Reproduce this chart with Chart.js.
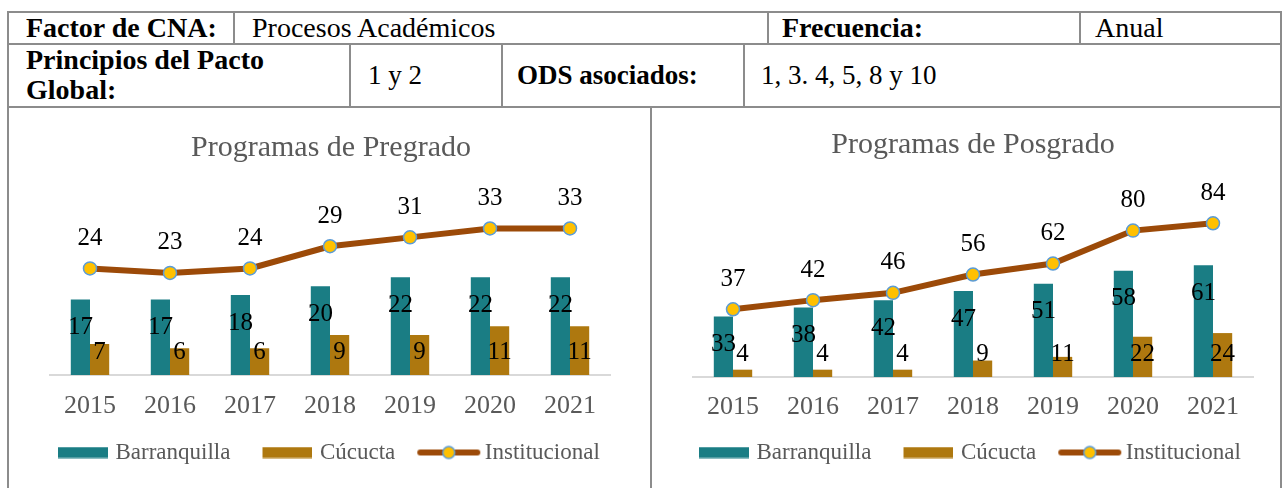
<!DOCTYPE html>
<html>
<head>
<meta charset="utf-8">
<script src="https://cdn.jsdelivr.net/npm/chart.js@4.4.1/dist/chart.umd.min.js"></script>
<style>
  html, body { margin: 0; padding: 0; background: #fff; width: 1284px; height: 488px; overflow: hidden; position: relative; font-family: "Liberation Serif", serif; }
  .ln { position: absolute; background: #8c8c8c; }
  .t { position: absolute; font-size: 27px; color: #000; white-space: nowrap; line-height: 32px; }
  .b { font-weight: bold; }
  .big { font-size: 28px; }
  canvas { position: absolute; top: 107px; }
</style>
</head>
<body>
<!-- table grid -->
<div class="ln" style="left:7px;top:11px;width:1275px;height:2px"></div>
<div class="ln" style="left:7px;top:43px;width:1275px;height:2px"></div>
<div class="ln" style="left:7px;top:106px;width:1275px;height:2px"></div>
<div class="ln" style="left:7px;top:11px;width:2px;height:477px"></div>
<div class="ln" style="left:1280px;top:11px;width:2px;height:477px"></div>
<div class="ln" style="left:233px;top:11px;width:2px;height:33px"></div>
<div class="ln" style="left:767px;top:11px;width:2px;height:33px"></div>
<div class="ln" style="left:1079px;top:11px;width:2px;height:33px"></div>
<div class="ln" style="left:349px;top:43px;width:2px;height:64px"></div>
<div class="ln" style="left:501px;top:43px;width:2px;height:64px"></div>
<div class="ln" style="left:743px;top:43px;width:2px;height:64px"></div>
<div class="ln" style="left:650px;top:106px;width:2px;height:382px"></div>

<div class="t b big" style="left:26px;top:12px">Factor de CNA:</div>
<div class="t big" style="left:252px;top:12px">Procesos Académicos</div>
<div class="t b big" style="left:782px;top:12px">Frecuencia:</div>
<div class="t big" style="left:1095px;top:12px">Anual</div>
<div class="t b big" style="left:26px;top:45px;line-height:30px">Principios del Pacto<br>Global:</div>
<div class="t" style="left:368px;top:59px">1 y 2</div>
<div class="t b" style="left:517px;top:59px">ODS asociados:</div>
<div class="t" style="left:761px;top:59px">1, 3. 4, 5, 8 y 10</div>

<canvas id="pregrado" width="641" height="367" style="left:9px"></canvas>
<canvas id="posgrado" width="628" height="367" style="left:652px"></canvas>

<script>
// years on the x axis
let years = ["2015", "2016", "2017", "2018", "2019", "2020", "2021"];

// Programas de Pregrado
let pregradoBarranquilla = [17, 17, 18, 20, 22, 22, 22];
let pregradoCucuta = [7, 6, 6, 9, 9, 11, 11];
let pregradoInstitucional = [24, 23, 24, 29, 31, 33, 33];

// Programas de Posgrado
let posgradoBarranquilla = [33, 38, 42, 47, 51, 58, 61];
let posgradoCucuta = [4, 4, 4, 9, 11, 22, 24];
let posgradoInstitucional = [37, 42, 46, 56, 62, 80, 84];

let seriesNames = ["Barranquilla", "Cúcucta", "Institucional"];

let teal = "#1A7D84";
let gold = "#AE780F";
let brown = "#9C4A08";
let yellow = "#FFC000";
let blue = "#5B9BD5";
let grey = "#595959";
let serif = "'Liberation Serif', serif";

// legend icons, used as point styles (blank part on the left = gap between items)
function legendBox(color) {
  let c = document.createElement("canvas");
  c.width = 82;
  c.height = 12;
  let g = c.getContext("2d");
  g.fillStyle = color;
  g.fillRect(32, 0.5, 50, 11);
  return c;
}

function legendLine() {
  let c = document.createElement("canvas");
  c.width = 90;
  c.height = 16;
  let g = c.getContext("2d");
  g.strokeStyle = brown;
  g.lineWidth = 6;
  g.lineCap = "round";
  g.beginPath();
  g.moveTo(29, 8);
  g.lineTo(86, 8);
  g.stroke();
  g.beginPath();
  g.arc(57.5, 8, 6, 0, Math.PI * 2);
  g.fillStyle = yellow;
  g.fill();
  g.lineWidth = 1.5;
  g.strokeStyle = blue;
  g.stroke();
  return c;
}

let legendIcons = [legendBox(teal), legendBox(gold), legendLine()];

// value labels: inside bar top, bar base, above line points
let valueLabels = {
  id: "valueLabels",
  afterDatasetsDraw(chart) {
    let ctx = chart.ctx;
    ctx.save();
    ctx.font = "25px " + serif;
    ctx.fillStyle = "#000";
    ctx.textAlign = "center";
    ctx.textBaseline = "middle";
    chart.data.datasets.forEach((ds, i) => {
      let meta = chart.getDatasetMeta(i);
      meta.data.forEach((el, j) => {
        let y;
        if (ds.labelPos === "end") y = el.y + 28;
        else if (ds.labelPos === "base") y = el.base - 23;
        else y = el.y - 30;
        ctx.fillText(String(ds.data[j]), el.x, y);
      });
    });
    ctx.restore();
  },
};

function drawChart(canvasId, title, barranquilla, cucuta, institucional, yMax, lay) {
  let ctx = document.getElementById(canvasId).getContext("2d");
  return new Chart(ctx, {
    type: "bar",
    data: {
      labels: years,
      datasets: [
        {
          type: "line",
          label: seriesNames[2],
          data: institucional,
          borderColor: brown,
          borderWidth: 6,
          pointRadius: 6.5,
          pointBackgroundColor: yellow,
          pointBorderColor: blue,
          pointBorderWidth: 1.5,
          tension: 0,
          order: 0,
          labelPos: "above",
        },
        {
          label: seriesNames[0],
          data: barranquilla,
          backgroundColor: teal,
          categoryPercentage: 0.48,
          barPercentage: 1,
          order: 1,
          labelPos: "end",
        },
        {
          label: seriesNames[1],
          data: cucuta,
          backgroundColor: gold,
          categoryPercentage: 0.48,
          barPercentage: 1,
          order: 2,
          labelPos: "base",
        },
      ],
    },
    options: {
      responsive: false,
      animation: false,
      layout: { padding: { left: lay.padLeft, right: lay.padRight, top: 0, bottom: 0 } },
      plugins: {
        tooltip: { enabled: false },
        title: {
          display: true,
          text: title,
          color: grey,
          font: { family: serif, size: 30, weight: "normal" },
          padding: { top: lay.titleTop, bottom: lay.titleBottom },
        },
        legend: {
          position: "bottom",
          align: "start",
          labels: {
            usePointStyle: true,
            pointStyleWidth: 74,
            padding: 4,
            color: grey,
            font: { family: serif, size: 23 },
            sort: (a, b) => seriesNames.indexOf(a.text) - seriesNames.indexOf(b.text),
            generateLabels(chart) {
              let items = Chart.defaults.plugins.legend.labels.generateLabels(chart);
              items.forEach((it) => {
                it.pointStyle = legendIcons[seriesNames.indexOf(it.text)];
              });
              return items;
            },
          },
        },
      },
      scales: {
        x: {
          grid: { display: false, drawTicks: false },
          border: { display: true, color: "#D9D9D9", width: 2 },
          ticks: {
            color: grey,
            padding: lay.tickPad,
            font: { family: serif, size: 26, lineHeight: 21 / 26 },
          },
        },
        // invisible axes that only reserve room on each side of the plot
        y: {
          position: "left",
          min: 0,
          max: yMax,
          grid: { display: false, drawTicks: false },
          border: { display: false },
          ticks: { display: false },
          afterFit: (s) => { s.width = lay.axisLeft; },
        },
        yr: {
          position: "right",
          type: "linear",
          min: 0,
          max: 1,
          grid: { display: false, drawTicks: false },
          border: { display: false },
          ticks: { display: false },
          afterFit: (s) => { s.width = lay.axisRight; },
        },
      },
    },
    plugins: [valueLabels],
  });
}

drawChart("pregrado", "Programas de Pregrado", pregradoBarranquilla, pregradoCucuta, pregradoInstitucional, 40,
  { padLeft: 17, padRight: 14, axisLeft: 24, axisRight: 26, titleTop: 23, titleBottom: 31.4, tickPad: 20.5 });

drawChart("posgrado", "Programas de Posgrado", posgradoBarranquilla, posgradoCucuta, posgradoInstitucional, 100,
  { padLeft: 15, padRight: 1, axisLeft: 26, axisRight: 26, titleTop: 20, titleBottom: 31, tickPad: 19.5 });
</script>
</body>
</html>
